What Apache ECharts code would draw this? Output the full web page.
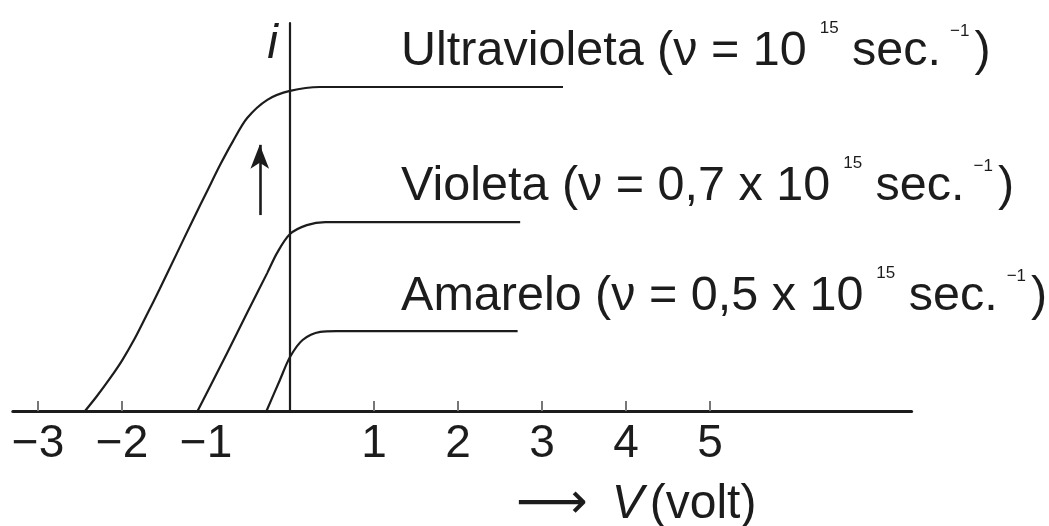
<!DOCTYPE html>
<html>
<head>
<meta charset="utf-8">
<style>
  html, body { margin: 0; padding: 0; background: #fff; }
  #chart { width: 1049px; height: 526px; }
</style>
<script src="https://cdn.jsdelivr.net/npm/echarts@6/dist/echarts.min.js"></script>
</head>
<body>
<div id="chart"></div>
<script>
// Photocurrent i versus potential V for three light frequencies
const vUltra = [-2.44, -2.3, -2.15, -2.0, -1.85, -1.7, -1.55, -1.35, -1.15, -0.99, -0.83, -0.68, -0.51, -0.27, 0, 0.36, 0.7, 3.25];
const iUltra = [0, 0.38, 0.82, 1.3, 1.86, 2.5, 3.15, 4.05, 4.95, 5.65, 6.35, 6.95, 7.55, 8.02, 8.25, 8.35, 8.35, 8.35];

const vViol = [-1.1, -0.75, -0.51, -0.27, -0.155, 0, 0.2, 0.42, 0.8, 2.74];
const iViol = [0, 1.49, 2.53, 3.56, 4.07, 4.56, 4.79, 4.87, 4.87, 4.87];

const vAmar = [-0.28, -0.12, 0, 0.15, 0.36, 0.55, 0.9, 2.71];
const iAmar = [0, 0.8, 1.39, 1.83, 2.04, 2.06, 2.06, 2.06];

const labelUltra = ['Ultravioleta (ν = 10', '15', ' sec.', '−1', ')'];
const labelViol  = ['Violeta (ν = 0,7 x 10', '15', ' sec.', '−1', ')'];
const labelAmar  = ['Amarelo (ν = 0,5 x 10', '15', ' sec.', '−1', ')'];

const tickValues  = [-3, -2, 1, 2, 3, 4, 5];
const labelValues = [-3, -2, -1, 1, 2, 3, 4, 5];

// where each curve's caption starts (in volts)
const captionV = 1.31;

// the upward arrow (increasing frequency)
const arrowV = -0.36;
const arrowI = [5.05, 6.86];

const INK = '#1c1c1c';
const FONT = '"Liberation Sans", Arial, sans-serif';

function pairs(xs, ys) { return xs.map((x, k) => [x, ys[k]]); }

function caption(parts) {
  return '{m|' + parts[0] + '}{s|' + parts[1] + '}{m|' + parts[2] + '}{t|' + parts[3] + '}{m|' + parts[4] + '}';
}

const rich = {
  m: { fontSize: 48.5, fontFamily: FONT, color: INK, lineHeight: 62, verticalAlign: 'bottom' },
  s: { fontSize: 17, fontFamily: FONT, color: INK, lineHeight: 20, verticalAlign: 'top', padding: [6, 0, 0, 13] },
  t: { fontSize: 17, fontFamily: FONT, color: INK, lineHeight: 20, verticalAlign: 'top', padding: [9, 5, 0, 9] }
};

function curve(name, xs, ys, parts, plateau, lift) {
  return {
    name: name,
    type: 'line',
    data: pairs(xs, ys),
    smooth: 0.3,
    symbol: 'none',
    silent: true,
    lineStyle: { color: INK, width: 2.2 },
    markPoint: {
      symbol: 'circle',
      symbolSize: 0,
      silent: true,
      data: [{ coord: [captionV, plateau] }],
      label: {
        show: true,
        position: 'inside',
        align: 'left',
        verticalAlign: 'bottom',
        offset: [1, -lift],
        formatter: caption(parts),
        rich: rich
      }
    }
  };
}

const chart = echarts.init(document.getElementById('chart'), null, { renderer: 'canvas' });

const series = [
  curve('Ultravioleta', vUltra, iUltra, labelUltra, iUltra[iUltra.length - 1], 11),
  curve('Violeta', vViol, iViol, labelViol, iViol[iViol.length - 1], 11),
  curve('Amarelo', vAmar, iAmar, labelAmar, iAmar[iAmar.length - 1], 10)
];

series[0].markLine = {
  silent: true,
  symbol: ['none', 'arrow'],
  symbolSize: [14, 24],
  label: { show: false },
  lineStyle: { color: INK, width: 2.6, type: 'solid' },
  data: [[{ coord: [arrowV, arrowI[0]] }, { coord: [arrowV, arrowI[1]] }]]
};

chart.setOption({
  animation: false,
  backgroundColor: '#ffffff',
  grid: { left: 12.8, right: 137.4, top: 23, bottom: 115, containLabel: false },
  xAxis: {
    type: 'value',
    min: -3.3,
    max: 7.4,
    splitLine: { show: false },
    axisLine: { show: true, onZero: true, lineStyle: { color: INK, width: 3 } },
    axisTick: {
      show: true,
      inside: true,
      length: 10,
      customValues: tickValues,
      lineStyle: { color: '#777', width: 2 }
    },
    axisLabel: {
      show: true,
      customValues: labelValues,
      margin: 10,
      fontSize: 46,
      fontFamily: FONT,
      color: INK,
      formatter: v => String(v).replace('-', '−')
    }
  },
  yAxis: {
    type: 'value',
    min: 0,
    max: 10,
    name: 'i',
    nameLocation: 'end',
    nameGap: -22,
    nameTextStyle: {
      fontSize: 48,
      fontStyle: 'italic',
      fontFamily: FONT,
      color: INK,
      align: 'right',
      verticalAlign: 'middle',
      padding: [0, 12, 0, 0]
    },
    splitLine: { show: false },
    axisTick: { show: false },
    axisLabel: { show: false },
    axisLine: { show: true, onZero: true, lineStyle: { color: INK, width: 2.2 } }
  },
  graphic: [{
    type: 'text',
    left: 516,
    top: 480,
    silent: true,
    style: {
      text: '{a|⟶}{v|V}{p|(volt)}',
      rich: {
        a: { fontSize: 50, fontFamily: '"DejaVu Sans", sans-serif', fill: INK, padding: [0, 24, 0, 0] },
        v: { fontSize: 48, fontFamily: FONT, fontStyle: 'italic', fill: INK, padding: [0, 6, 0, 0] },
        p: { fontSize: 48, fontFamily: FONT, fill: INK }
      }
    }
  }],
  series: series
});
</script>
</body>
</html>
